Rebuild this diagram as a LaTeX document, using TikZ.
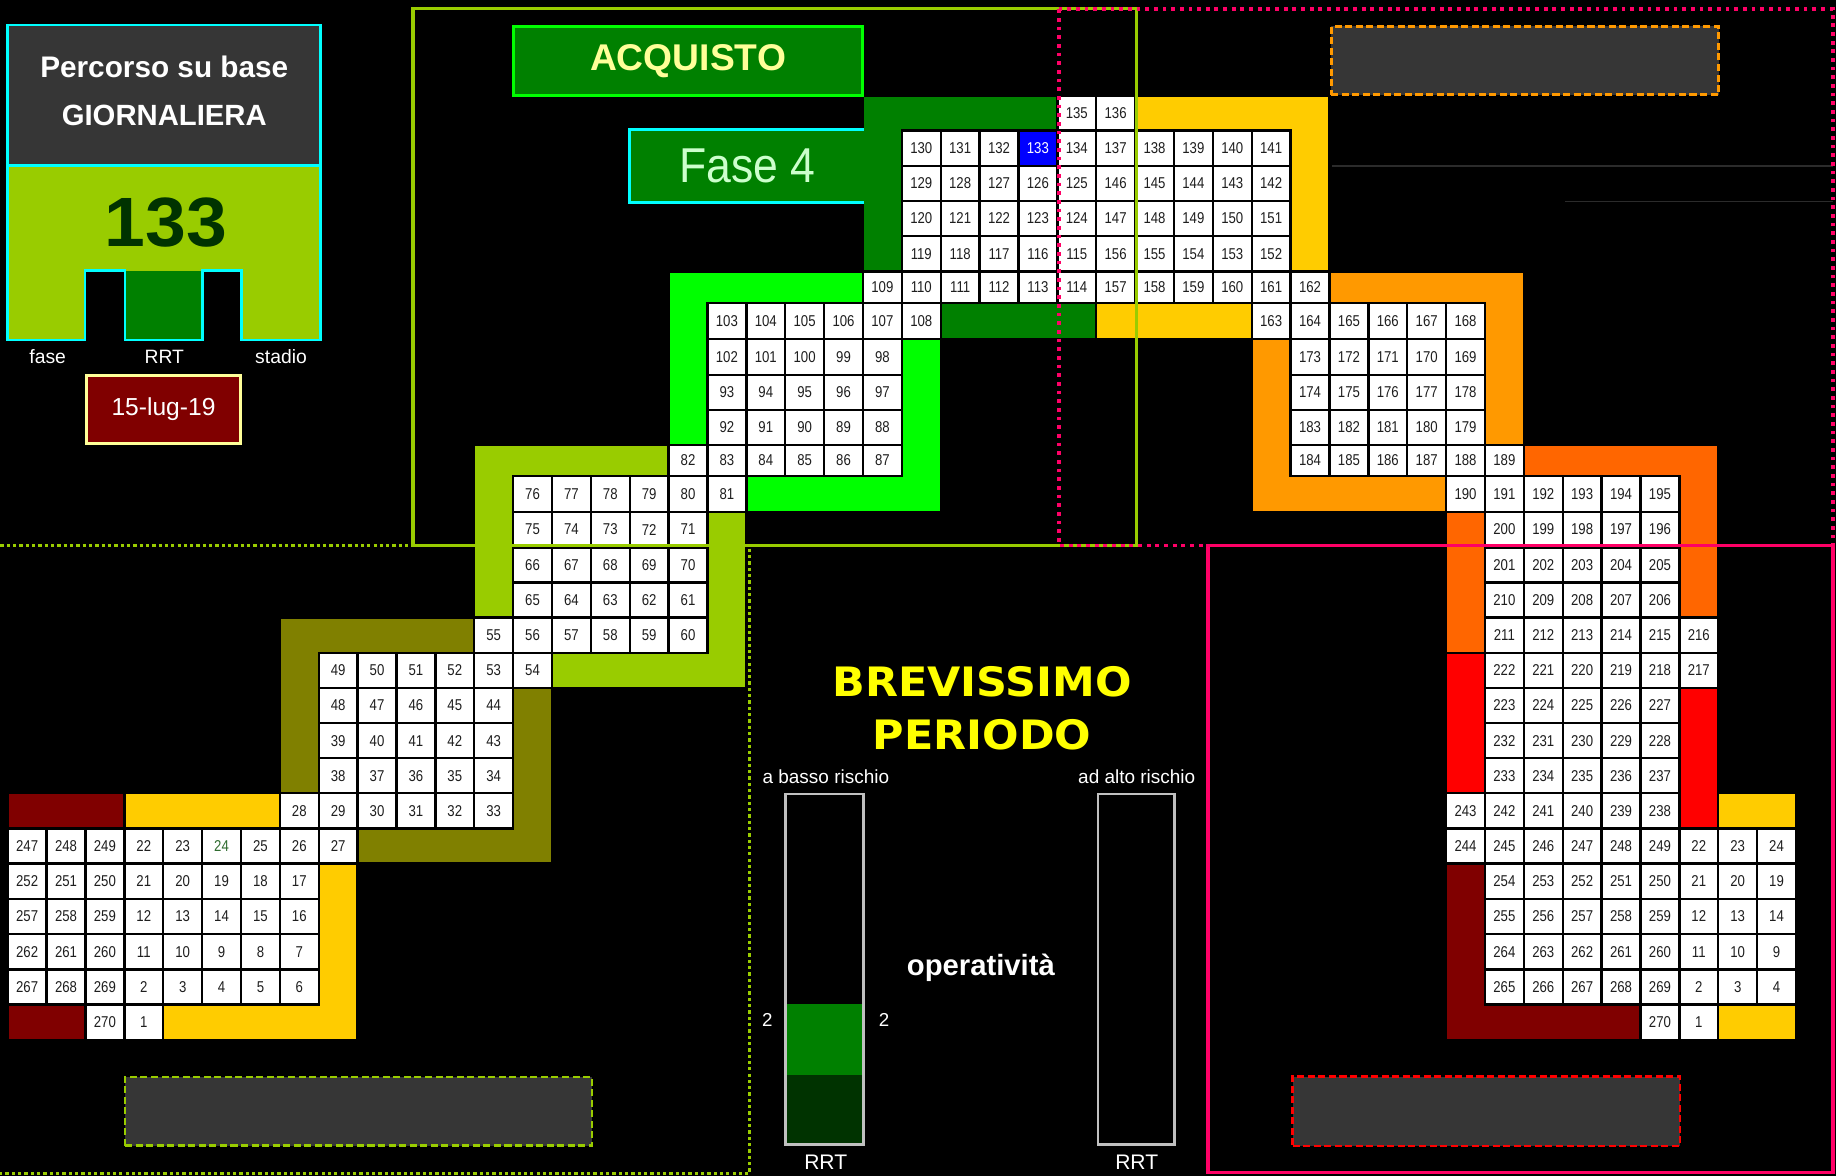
\documentclass[tikz,border=0pt]{standalone}
\usepackage{graphicx}
\usepackage{fontspec}
\setmainfont{Liberation Sans}
\newfontfamily\cellfont[FakeStretch=0.84]{Liberation Sans}
\newfontfamily\verdfont{DejaVu Sans}

\definecolor{cDarkRed}{HTML}{800000}
\definecolor{cYellow}{HTML}{FFCC00}
\definecolor{cOlive}{HTML}{808000}
\definecolor{cYG}{HTML}{99CC00}
\definecolor{cLime}{HTML}{00FF00}
\definecolor{cGreen}{HTML}{008000}
\definecolor{cOrange}{HTML}{FF9900}
\definecolor{cDOrange}{HTML}{FF6600}
\definecolor{cRed}{HTML}{FF0000}
\definecolor{cPink}{HTML}{FF0066}
\definecolor{cCyan}{HTML}{00FFFF}
\definecolor{cGray}{HTML}{363636}
\definecolor{cDeep}{HTML}{003300}
\definecolor{cPaleY}{HTML}{FFFF99}
\definecolor{cPaleG}{HTML}{CCFFCC}
\definecolor{cSilver}{HTML}{C0C0C0}
\definecolor{cNum}{HTML}{1E1E1E}
\definecolor{cNumG}{HTML}{2F6B2F}
\definecolor{cBlue}{HTML}{0000FF}
\definecolor{cLine}{HTML}{2B2B2B}
\definecolor{cTitle}{HTML}{FFFF00}

\newcommand\Ry[1]{\ifcase#1 82\or 111.5\or 141.5\or 171.5\or 201.5\or 232\or 258.5\or 289.5\or 320\or 350\or 380\or 406.5\or 437\or 467.5\or 497.5\or 527.5\or 557.5\or 587.5\or 617.5\or 647.5\or 677.5\or 707.5\or 737.5\or 767.5\or 797.5\or 828\or 858\or 888\fi}

\tikzset{
  cellbox/.style={draw=black, line width=2pt, fill=white, inner sep=0pt,
    minimum width=33.2pt, text=cNum, font=\cellfont\fontsize{13.4}{15}\selectfont},
  bluecell/.style={fill=cBlue, text=white},
  greentext/.style={text=cNumG},
  band/.style={draw=black, line width=2pt},
  lbl/.style={text=white, inner sep=0pt, anchor=base},
  graybox/.style={fill=cGray, line width=2.3pt, dash pattern=on 6pt off 3pt, inner sep=0pt},
  rbar/.style={draw=cSilver, line width=2.3pt},
}

\newcommand\gcell[4][]{%
  \edef\rya{\Ry{#3}}%
  \edef\ryb{\Ry{\the\numexpr#3+1\relax}}%
  \pgfmathsetmacro\rh{\ryb-\rya}%
  \pgfmathsetmacro\cxm{6.6+33.2*#2+16.6}%
  \pgfmathsetmacro\rym{(\rya+\ryb)/2}%
  \node[cellbox,#1,minimum height=\rh pt] (c#2r#3) at (\cxm,\rym) {#4};}

\newcommand\gcellrow[3]{%
  \foreach \t [count=\i from 0] in {#3} {%
    \pgfmathtruncatemacro\cc{#2+\i}%
    \gcell{\cc}{#1}{\t}}}

\begin{document}
\begin{tikzpicture}[x=1pt,y=-1pt]
\useasboundingbox (0,0) rectangle (1568,1004.3);
\fill[black] (0,0) rectangle (1568,1004.3);

\foreach \i in {0,...,46} \coordinate (C\i) at ({6.6+33.2*\i},0);
\foreach \i/\y in {0/82,1/111.5,2/141.5,3/171.5,4/201.5,5/232,6/258.5,7/289.5,8/320,9/350,10/380,11/406.5,12/437,13/467.5,14/497.5,15/527.5,16/557.5,17/587.5,18/617.5,19/647.5,20/677.5,21/707.5,22/737.5,23/767.5,24/797.5,25/828,26/858,27/888}
  \coordinate (R\i) at (0,\y);

% ---------------- coloured bands ----------------
\path[band, fill=cDarkRed] (C0 |- R20) rectangle (C3 |- R21);
\path[band, fill=cDarkRed] (C0 |- R26) rectangle (C2 |- R27);
\path[band, fill=cYellow] (C3 |- R20) rectangle (C7 |- R21);
\path[band, fill=cYellow] (C8 |- R22) -- (C9 |- R22) -- (C9 |- R27) -- (C4 |- R27) -- (C4 |- R26) -- (C8 |- R26) -- cycle;
\path[band, fill=cOlive] (C7 |- R15) -- (C12 |- R15) -- (C12 |- R16) -- (C8 |- R16) -- (C8 |- R20) -- (C7 |- R20) -- cycle;
\path[band, fill=cOlive] (C13 |- R17) -- (C14 |- R17) -- (C14 |- R22) -- (C9 |- R22) -- (C9 |- R21) -- (C13 |- R21) -- cycle;
\path[band, fill=cYG] (C12 |- R10) -- (C17 |- R10) -- (C17 |- R11) -- (C13 |- R11) -- (C13 |- R15) -- (C12 |- R15) -- cycle;
\path[band, fill=cYG] (C18 |- R12) -- (C19 |- R12) -- (C19 |- R17) -- (C14 |- R17) -- (C14 |- R16) -- (C18 |- R16) -- cycle;
\path[band, fill=cLime] (C17 |- R5) -- (C22 |- R5) -- (C22 |- R6) -- (C18 |- R6) -- (C18 |- R10) -- (C17 |- R10) -- cycle;
\path[band, fill=cLime] (C23 |- R7) -- (C24 |- R7) -- (C24 |- R12) -- (C19 |- R12) -- (C19 |- R11) -- (C23 |- R11) -- cycle;
\path[band, fill=cGreen] (C22 |- R0) -- (C27 |- R0) -- (C27 |- R1) -- (C23 |- R1) -- (C23 |- R5) -- (C22 |- R5) -- cycle;
\path[band, fill=cGreen] (C24 |- R6) rectangle (C28 |- R7);
\path[band, fill=cYellow] (C29 |- R0) -- (C34 |- R0) -- (C34 |- R5) -- (C33 |- R5) -- (C33 |- R1) -- (C29 |- R1) -- cycle;
\path[band, fill=cYellow] (C28 |- R6) rectangle (C32 |- R7);
\path[band, fill=cOrange] (C34 |- R5) -- (C39 |- R5) -- (C39 |- R10) -- (C38 |- R10) -- (C38 |- R6) -- (C34 |- R6) -- cycle;
\path[band, fill=cOrange] (C32 |- R7) -- (C33 |- R7) -- (C33 |- R11) -- (C37 |- R11) -- (C37 |- R12) -- (C32 |- R12) -- cycle;
\path[band, fill=cDOrange] (C39 |- R10) -- (C44 |- R10) -- (C44 |- R15) -- (C43 |- R15) -- (C43 |- R11) -- (C39 |- R11) -- cycle;
\path[band, fill=cDOrange] (C37 |- R12) rectangle (C38 |- R16);
\path[band, fill=cRed] (C37 |- R16) rectangle (C38 |- R20);
\path[band, fill=cRed] (C43 |- R17) rectangle (C44 |- R21);
\path[band, fill=cDarkRed] (C37 |- R22) -- (C38 |- R22) -- (C38 |- R26) -- (C42 |- R26) -- (C42 |- R27) -- (C37 |- R27) -- cycle;
\path[band, fill=cYellow] (C44 |- R20) rectangle (C46 |- R21);
\path[band, fill=cYellow] (C44 |- R26) rectangle (C46 |- R27);

% ---------------- cells ----------------
\gcellrow{0}{27}{135,136}
\gcellrow{1}{23}{130,131,132}
\gcell[bluecell]{26}{1}{133}
\gcellrow{1}{27}{134,137,138,139,140,141}
\gcellrow{2}{23}{129,128,127,126,125,146,145,144,143,142}
\gcellrow{3}{23}{120,121,122,123,124,147,148,149,150,151}
\gcellrow{4}{23}{119,118,117,116,115,156,155,154,153,152}
\gcellrow{5}{22}{109,110,111,112,113,114,157,158,159,160,161,162}
\gcellrow{6}{18}{103,104,105,106,107,108}
\gcellrow{6}{32}{163,164,165,166,167,168}
\gcellrow{7}{18}{102,101,100,99,98}
\gcellrow{7}{33}{173,172,171,170,169}
\gcellrow{8}{18}{93,94,95,96,97}
\gcellrow{8}{33}{174,175,176,177,178}
\gcellrow{9}{18}{92,91,90,89,88}
\gcellrow{9}{33}{183,182,181,180,179}
\gcellrow{10}{17}{82,83,84,85,86,87}
\gcellrow{10}{33}{184,185,186,187,188,189}
\gcellrow{11}{13}{76,77,78,79,80,81}
\gcellrow{11}{37}{190,191,192,193,194,195}
\gcellrow{12}{13}{75,74,73,72,71}
\gcellrow{12}{38}{200,199,198,197,196}
\gcellrow{13}{13}{66,67,68,69,70}
\gcellrow{13}{38}{201,202,203,204,205}
\gcellrow{14}{13}{65,64,63,62,61}
\gcellrow{14}{38}{210,209,208,207,206}
\gcellrow{15}{12}{55,56,57,58,59,60}
\gcellrow{15}{38}{211,212,213,214,215,216}
\gcellrow{16}{8}{49,50,51,52,53,54}
\gcellrow{16}{38}{222,221,220,219,218,217}
\gcellrow{17}{8}{48,47,46,45,44}
\gcellrow{17}{38}{223,224,225,226,227}
\gcellrow{18}{8}{39,40,41,42,43}
\gcellrow{18}{38}{232,231,230,229,228}
\gcellrow{19}{8}{38,37,36,35,34}
\gcellrow{19}{38}{233,234,235,236,237}
\gcellrow{20}{7}{28,29,30,31,32,33}
\gcellrow{20}{37}{243,242,241,240,239,238}
\gcellrow{21}{0}{247,248,249,22,23}
\gcell[greentext]{5}{21}{24}
\gcellrow{21}{6}{25,26,27}
\gcellrow{21}{37}{244,245,246,247,248,249,22,23,24}
\gcellrow{22}{0}{252,251,250,21,20,19,18,17}
\gcellrow{22}{38}{254,253,252,251,250,21,20,19}
\gcellrow{23}{0}{257,258,259,12,13,14,15,16}
\gcellrow{23}{38}{255,256,257,258,259,12,13,14}
\gcellrow{24}{0}{262,261,260,11,10,9,8,7}
\gcellrow{24}{38}{264,263,262,261,260,11,10,9}
\gcellrow{25}{0}{267,268,269,2,3,4,5,6}
\gcellrow{25}{38}{265,266,267,268,269,2,3,4}
\gcellrow{26}{2}{270,1}
\gcellrow{26}{42}{270,1}

% ---------------- top-left panel ----------------
\fill[cGray] (6.3,21.4) rectangle (273.9,141.5);
\fill[cYG] (6.3,141.5) -- (273.9,141.5) -- (273.9,290.4) -- (206.4,290.4) -- (206.4,231.2) -- (173.1,231.2) -- (173.1,290.4) -- (106.8,290.4) -- (106.8,231.2) -- (72.6,231.2) -- (72.6,290.4) -- (6.3,290.4) -- cycle;
\fill[cGreen] (106.8,231.2) rectangle (173.1,290.4);
\draw[cCyan, line width=2.3pt] (6.3,21.4) rectangle (273.9,141.5);
\draw[cCyan, line width=2.3pt] (6.3,141.5) -- (273.9,141.5) -- (273.9,290.4) -- (206.4,290.4) -- (206.4,231.2) -- (173.1,231.2) -- (173.1,290.4) -- (106.8,290.4) -- (106.8,231.2) -- (72.6,231.2) -- (72.6,290.4) -- (6.3,290.4) -- cycle;
\node[lbl, font=\bfseries\fontsize{25.4}{30}\selectfont] (tPerc) at (140.3,66) {Percorso su base};
\node[lbl, font=\bfseries\fontsize{25}{30}\selectfont] (tGiorn) at (140.3,107.6) {GIORNALIERA};
\node[lbl, text=cDeep, font=\bfseries\fontsize{59.6}{70}\selectfont] (tNum) at (141.8,210.7) {\scalebox{1.05}[1]{133}};
\node[lbl, font=\fontsize{16.5}{20}\selectfont] (tFase) at (40.7,310.3) {fase};
\node[lbl, font=\fontsize{16.5}{20}\selectfont] (tRRT) at (140.3,310.3) {RRT};
\node[lbl, font=\fontsize{16.5}{20}\selectfont] (tStadio) at (240,310.3) {stadio};
\node[draw=cPaleY, fill=cDarkRed, line width=2.3pt, minimum width=131.8pt, minimum height=58.4pt, inner sep=0pt,
      text=white, font=\fontsize{21}{25}\selectfont] (date) at (139.65,349.75) {15-lug-19};

% ---------------- ACQUISTO / Fase 4 ----------------
\node[fill=cGreen, draw=cLime, line width=2.3pt, minimum width=298.3pt, minimum height=58.9pt, inner sep=0pt,
      text=cPaleY, font=\bfseries\fontsize{31.8}{36}\selectfont] (acq) at (587.6,52) {\raisebox{-1.5pt}{ACQUISTO}};
\node[fill=cGreen, minimum width=200.7pt, minimum height=61.5pt, inner sep=0pt,
      text=cPaleG, font=\fontsize{41.8}{48}\selectfont] (fase4) at (638.15,141.75) {\scalebox{0.91}[1]{Fase 4}};
\draw[cCyan, line width=2.3pt] ([xshift=-1.2pt]fase4.north east) -- (fase4.north west) -- (fase4.south west) -- ([xshift=-1.2pt]fase4.south east);

% top-right dashed box and faint lines
\node[graybox, draw=cOrange, minimum width=330.8pt, minimum height=58.3pt] (boxTR) at (1302.25,51.7) {};
\coordinate (l1a) at (1137.6,141.8); \coordinate (l1b) at (1565,141.8);
\coordinate (l2a) at (1336.6,171.9); \coordinate (l2b) at (1565,171.9);
\draw[cLine, line width=1pt] (l1a) -- (l1b);
\draw[cLine, line width=1pt] (l2a) -- (l2b);

% bottom dashed boxes
\node[graybox, draw=cYG, minimum width=398.6pt, minimum height=58.9pt] (boxBL) at (306.15,949.1) {};
\node[graybox, draw=cRed, minimum width=330.9pt, minimum height=59.3pt] (boxBR) at (1269.3,949) {};

% ---------------- centre ----------------
\node[lbl, text=cTitle, font=\verdfont\bfseries\fontsize{34.6}{40}\selectfont] (tBrev) at (838.8,594.6) {\scalebox{1.06}[1]{BREVISSIMO}};
\node[lbl, text=cTitle, font=\verdfont\bfseries\fontsize{34.6}{40}\selectfont] (tPer) at (838.6,639.9) {\scalebox{1.06}[1]{PERIODO}};
\node[lbl, font=\fontsize{16.2}{20}\selectfont] (tBasso) at (705.3,669.2) {a basso rischio};
\node[lbl, font=\fontsize{16.2}{20}\selectfont] (tAlto) at (970.8,669.2) {ad alto rischio};

\fill[cGreen] (671,857.4) rectangle (737.3,918.2);
\fill[cDeep] (671,918.2) rectangle (737.3,977.1);
\node[rbar, minimum width=66.4pt, minimum height=299pt, inner sep=0pt] (bar1) at (704.15,827.65) {};
\node[rbar, minimum width=65.2pt, minimum height=299pt, inner sep=0pt] (bar2) at (970.35,827.65) {};

\node[lbl, font=\fontsize{16}{20}\selectfont] (tTwoL) at (655.3,876.7) {2};
\node[lbl, font=\fontsize{16}{20}\selectfont] (tTwoR) at (755,876.7) {2};
\node[lbl, font=\fontsize{18}{22}\selectfont] (tRRT1) at (705.2,999) {RRT};
\node[lbl, font=\fontsize{18}{22}\selectfont] (tRRT2) at (970.8,999) {RRT};
\node[lbl, font=\bfseries\fontsize{25}{30}\selectfont] (tOper) at (837.7,833.1) {operatività};

% ---------------- frames ----------------
\draw[cYG, line width=3pt, dash pattern=on 2.8pt off 2.6pt] (-5,465.8) -- (640.2,465.8) -- (640.2,1002.2) -- (-5,1002.2);
\draw[cYG, line width=3pt] (352.6,7.1) rectangle (970.6,465.8);
\draw[cPink, line width=3.2pt] (1031.9,465.8) rectangle (1565.6,1001.4);
\draw[cPink, line width=3.2pt, dash pattern=on 3.2pt off 4.2pt] (904.4,8) rectangle (1565.4,465.8);
\end{tikzpicture}
\end{document}
